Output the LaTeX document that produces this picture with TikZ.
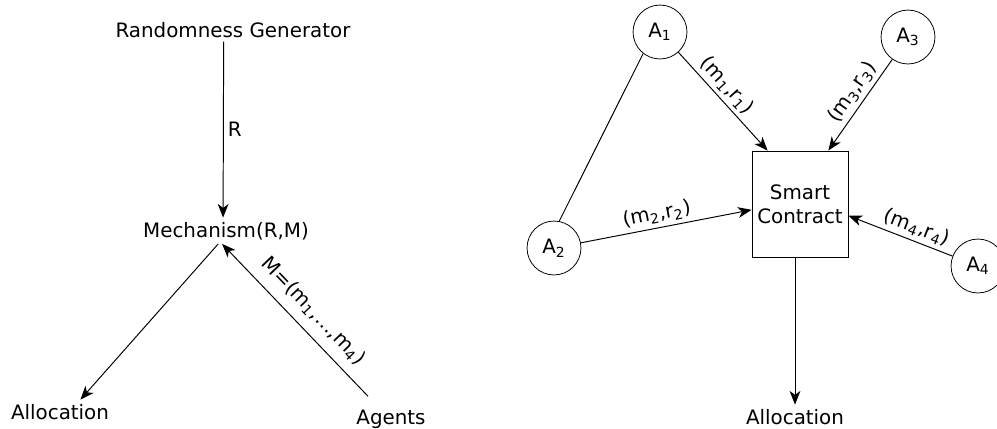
\documentclass[tikz,border=0pt]{standalone}
\usepackage{fontspec}
\setmainfont{DejaVu Sans}
\usetikzlibrary{arrows.meta}

\begin{document}
\begin{tikzpicture}[x=0.018054cm, y=-0.018054cm,
    font=\fontsize{10.2pt}{12.2pt}\selectfont,
    every node/.style = {inner sep=2pt},
    txt/.style = {anchor=base},
    agent/.style = {draw, circle, minimum size=27.7pt, inner sep=0pt},
    contract/.style = {draw, rectangle, align=center,
      minimum width=49.3pt, minimum height=54.5pt},
    msg/.style = {-{Stealth[length=7pt, width=5.5pt, inset=2pt]}, line width=0.5pt},
    lbl/.style = {sloped, above}]
    \useasboundingbox (0,0) rectangle (997,428);
    \node[txt] (gen) at (233,37) {Randomness Generator};
    \node[txt] (mech) at (226,237) {Mechanism(R,M)};
    \node[txt] (alloc) at (60,419) {Allocation};
    \node[txt] (agents) at (391,424) {Agents};
    \draw[msg] ([xshift=-4.8pt]gen.south) -- node[right] {R} ([xshift=-1.5pt]mech.north);
    \draw[msg] ([xshift=-4pt]mech.south) -- ([xshift=10.5pt]alloc.north);
    \draw[msg] ([xshift=-11.8pt, yshift=4.6pt]agents.north)
        -- node[lbl, above=3pt, pos=0.47] {M=(m\textsubscript{1},\ldots,m\textsubscript{4})} ([xshift=-2pt]mech.south);
    \node[agent] (a1) at (660,32) {A\textsubscript{1}};
    \node[agent] (a2) at (554,248) {A\textsubscript{2}};
    \node[agent] (a3) at (908,37) {A\textsubscript{3}};
    \node[agent] (a4) at (978,266) {A\textsubscript{4}};
    \node[contract] (sc) at (800,204) {Smart\\Contract};
    \node[txt] (alloc2) at (795,424) {Allocation};
    \draw[line width=0.5pt] (a1.232) -- (a2.79);
    \draw[msg] (a1) -- node[lbl, pos=0.43] {(m\textsubscript{1},r\textsubscript{1})} ([xshift=8.2pt]sc.north west);
    \draw[msg] (a3) -- node[lbl, pos=0.45] {(m\textsubscript{3},r\textsubscript{3})} ([xshift=-10.3pt]sc.north east);
    \draw[msg] (a2) -- node[lbl, pos=0.46] {(m\textsubscript{2},r\textsubscript{2})} ([yshift=-3pt]sc.west);
    \draw[msg] (a4) -- node[lbl, pos=0.39] {(m\textsubscript{4},r\textsubscript{4})} ([yshift=-6pt]sc.east);
    \draw[msg] (alloc2.north |- sc.south) -- (alloc2.north);
  \end{tikzpicture}
\end{document}
